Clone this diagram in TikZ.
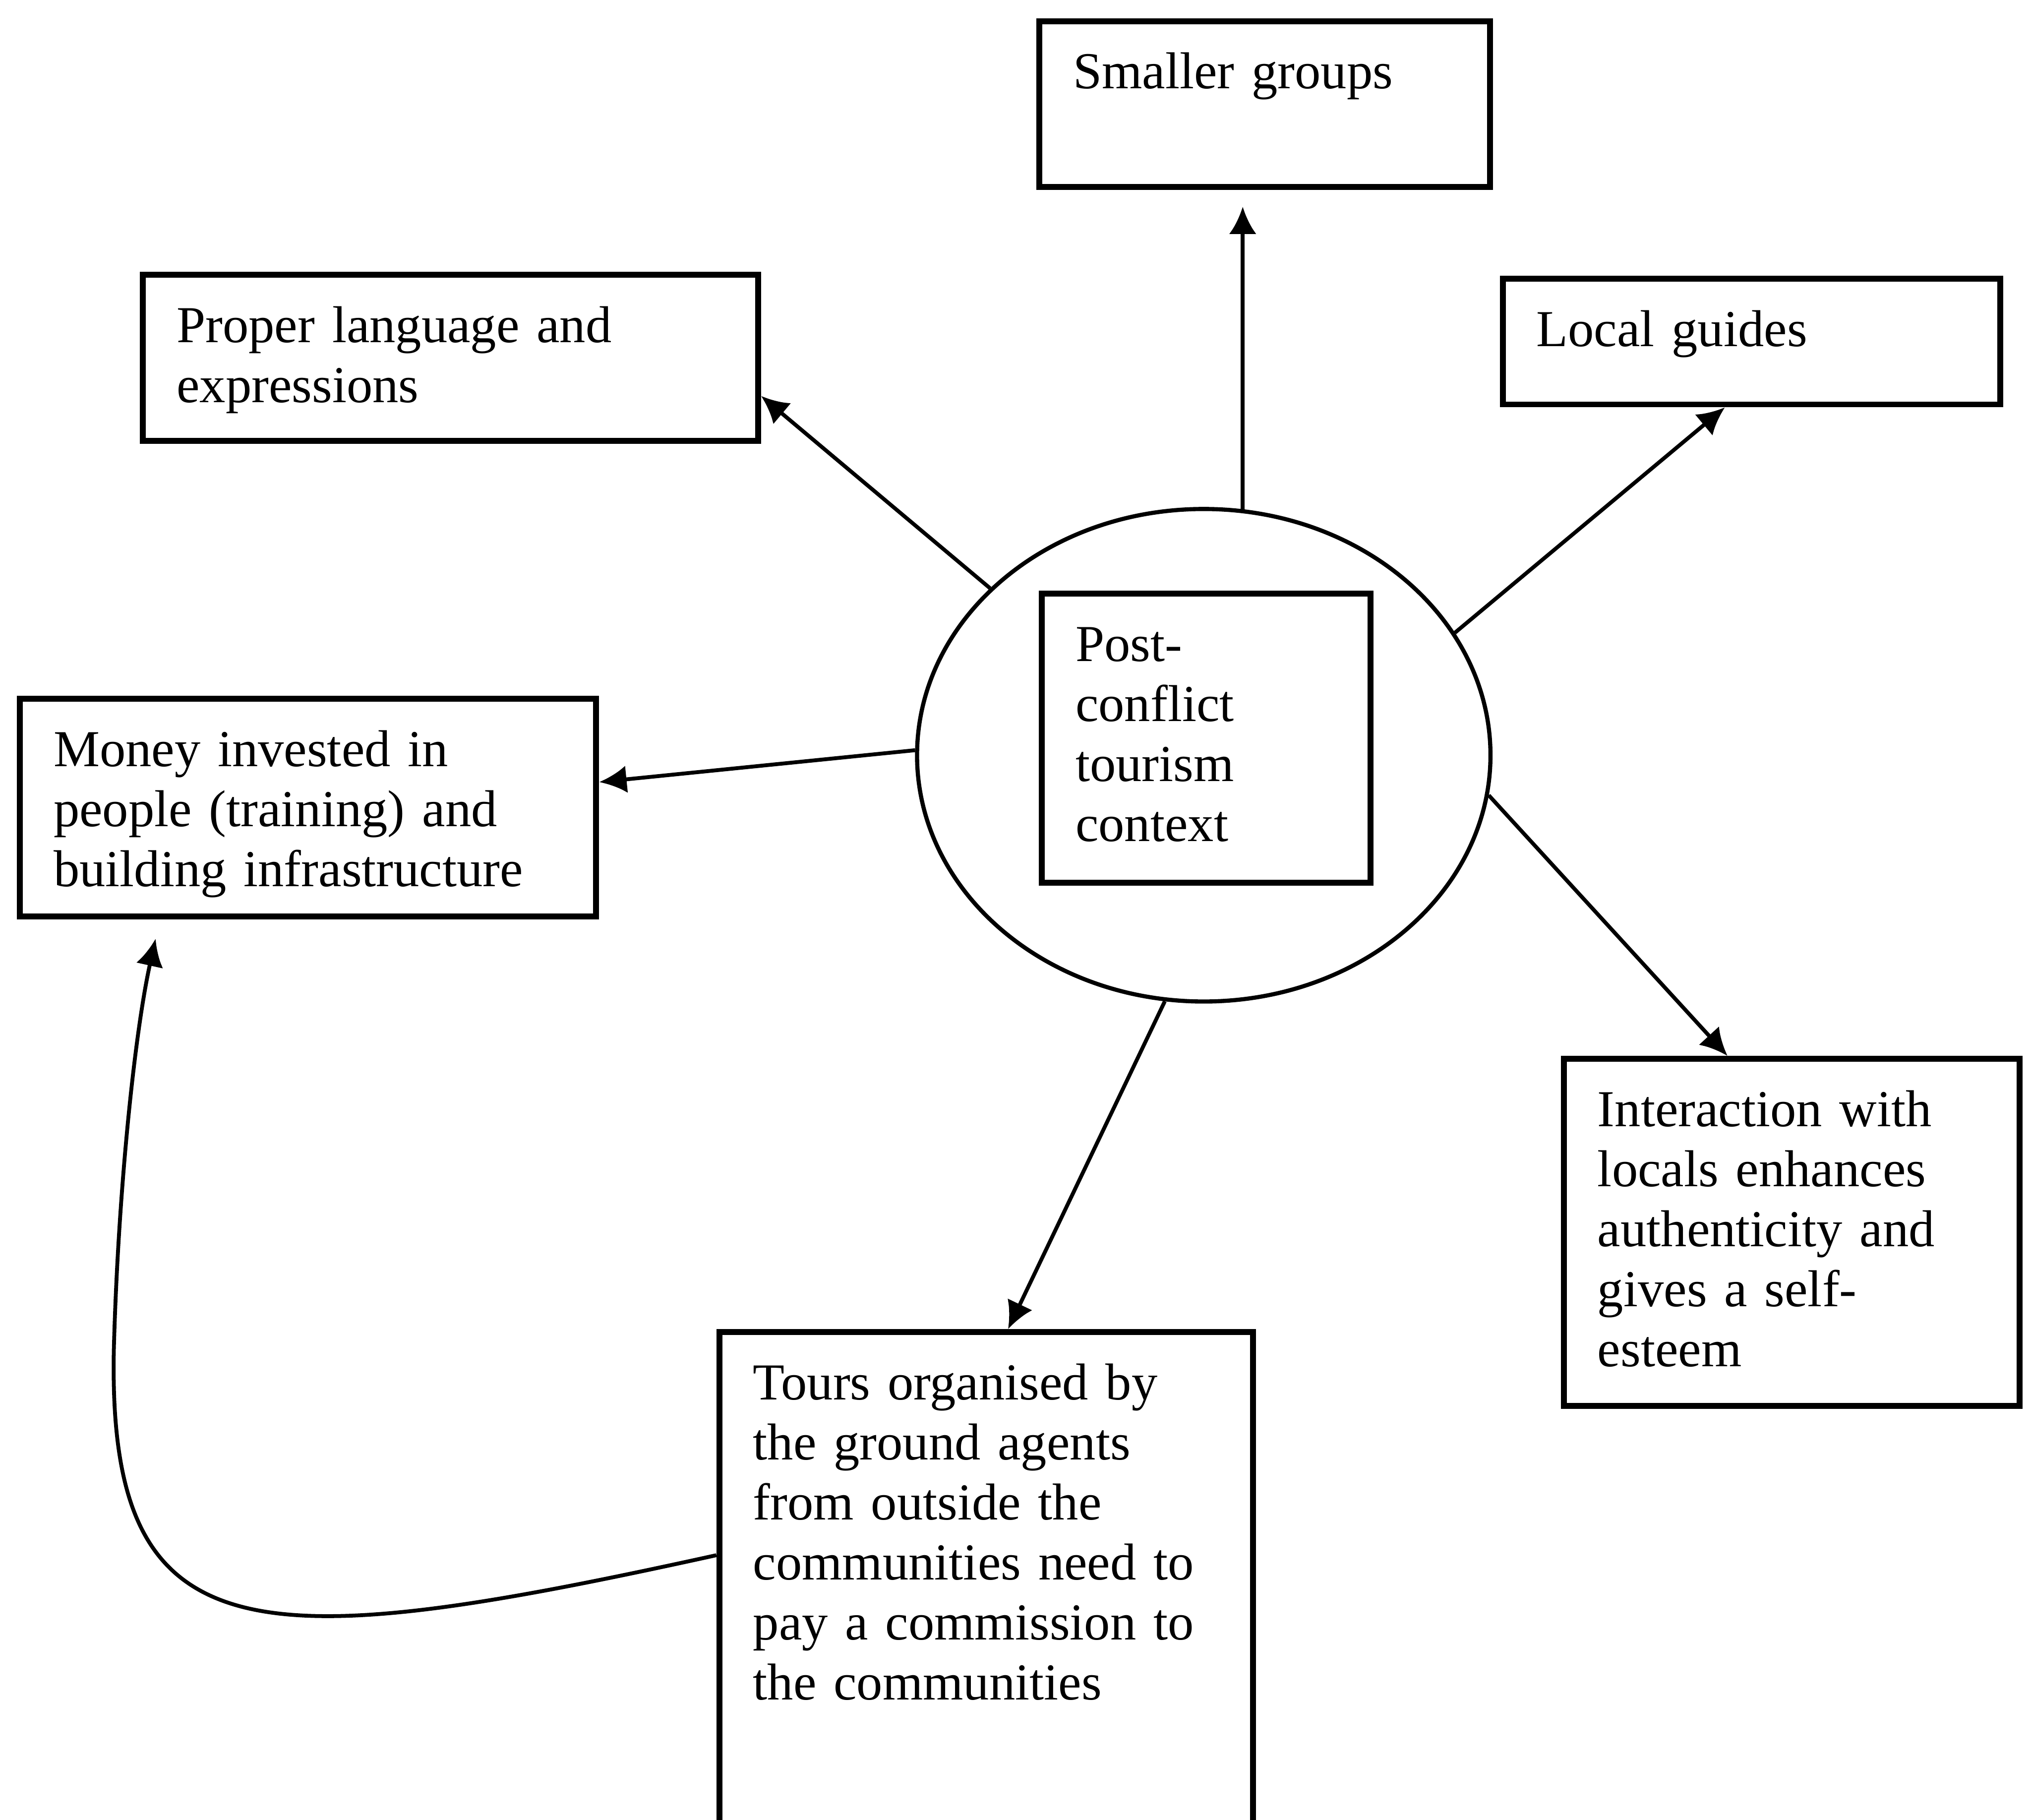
\documentclass[tikz,border=0pt]{standalone}
\usepackage{fontspec}
\setmainfont{Liberation Serif}
\usetikzlibrary{shapes,arrows.meta}
\tikzstyle{every picture}=[->,>={Latex[length=6.5mm,width=6.5mm]},line width=2.6pt]
\tikzstyle{box}=[draw,rectangle,anchor=north west,align=left,inner xsep=0.8cm,inner ysep=0pt,text height=1.6cm,line width=4pt,font=\fontsize{35}{40.5}\selectfont]

\begin{document}
\begin{tikzpicture}
    \useasboundingbox (0,0) rectangle (48.17,-43.15);

    % Context in the middle
    \node[ellipse,draw,line width=2.8pt,minimum width=13.6cm,minimum height=11.68cm,inner sep=0pt] (ctx) at (28.55,-17.91) {};
    \node[box,text width=6.2cm,text depth=5.25cm] (post) at (24.64,-14.01) {Post-\\conflict\\tourism\\context};

    % Boxes round it
    \node[box,text width=9.09cm,text depth=2.33cm] (small) at (24.58,-0.43) {Smaller groups};
    \node[box,text width=12.99cm,text depth=2.33cm] (proper) at (3.32,-6.45) {Proper language and\\expressions};
    \node[box,text width=10.2cm,text depth=1.38cm] (local) at (35.57,-6.54) {Local guides};
    \node[box,text width=12.07cm,text depth=3.56cm] (money) at (0.40,-16.50) {Money invested in\\people (training) and\\building infrastructure};
    \node[box,text width=9.21cm,text depth=6.63cm] (inter) at (37.02,-25.04) {Interaction with\\locals enhances\\authenticity and\\gives a self-\\esteem};
    \node[box,text width=11.06cm,text depth=10.1cm] (tours) at (16.99,-31.52) {Tours organised by\\the ground agents\\from outside the\\communities need to\\pay a commission to\\the communities};

    % Arrows out of the context
    \draw[shorten >=4mm] (ctx.81.4) -- (ctx.81.4 |- small.south);
    \draw (ctx.142.4) -- (proper.-7);
    \draw (ctx.26.7) -- (local.-112);
    \draw (ctx.179) -- (money.5);
    \draw (ctx.-8) -- (inter.110);
    \draw (ctx.-99.3) -- (tours.85);

    % Commission goes back to the money
    \draw (tours.175) .. controls (6,-39.3) and (2.55,-39.3) .. (2.7,-32)
        .. controls (2.8,-28.3) and (3.19,-24.52) .. ([xshift=3.29cm,yshift=-0.46cm]money.south west);

\end{tikzpicture}
\end{document}
